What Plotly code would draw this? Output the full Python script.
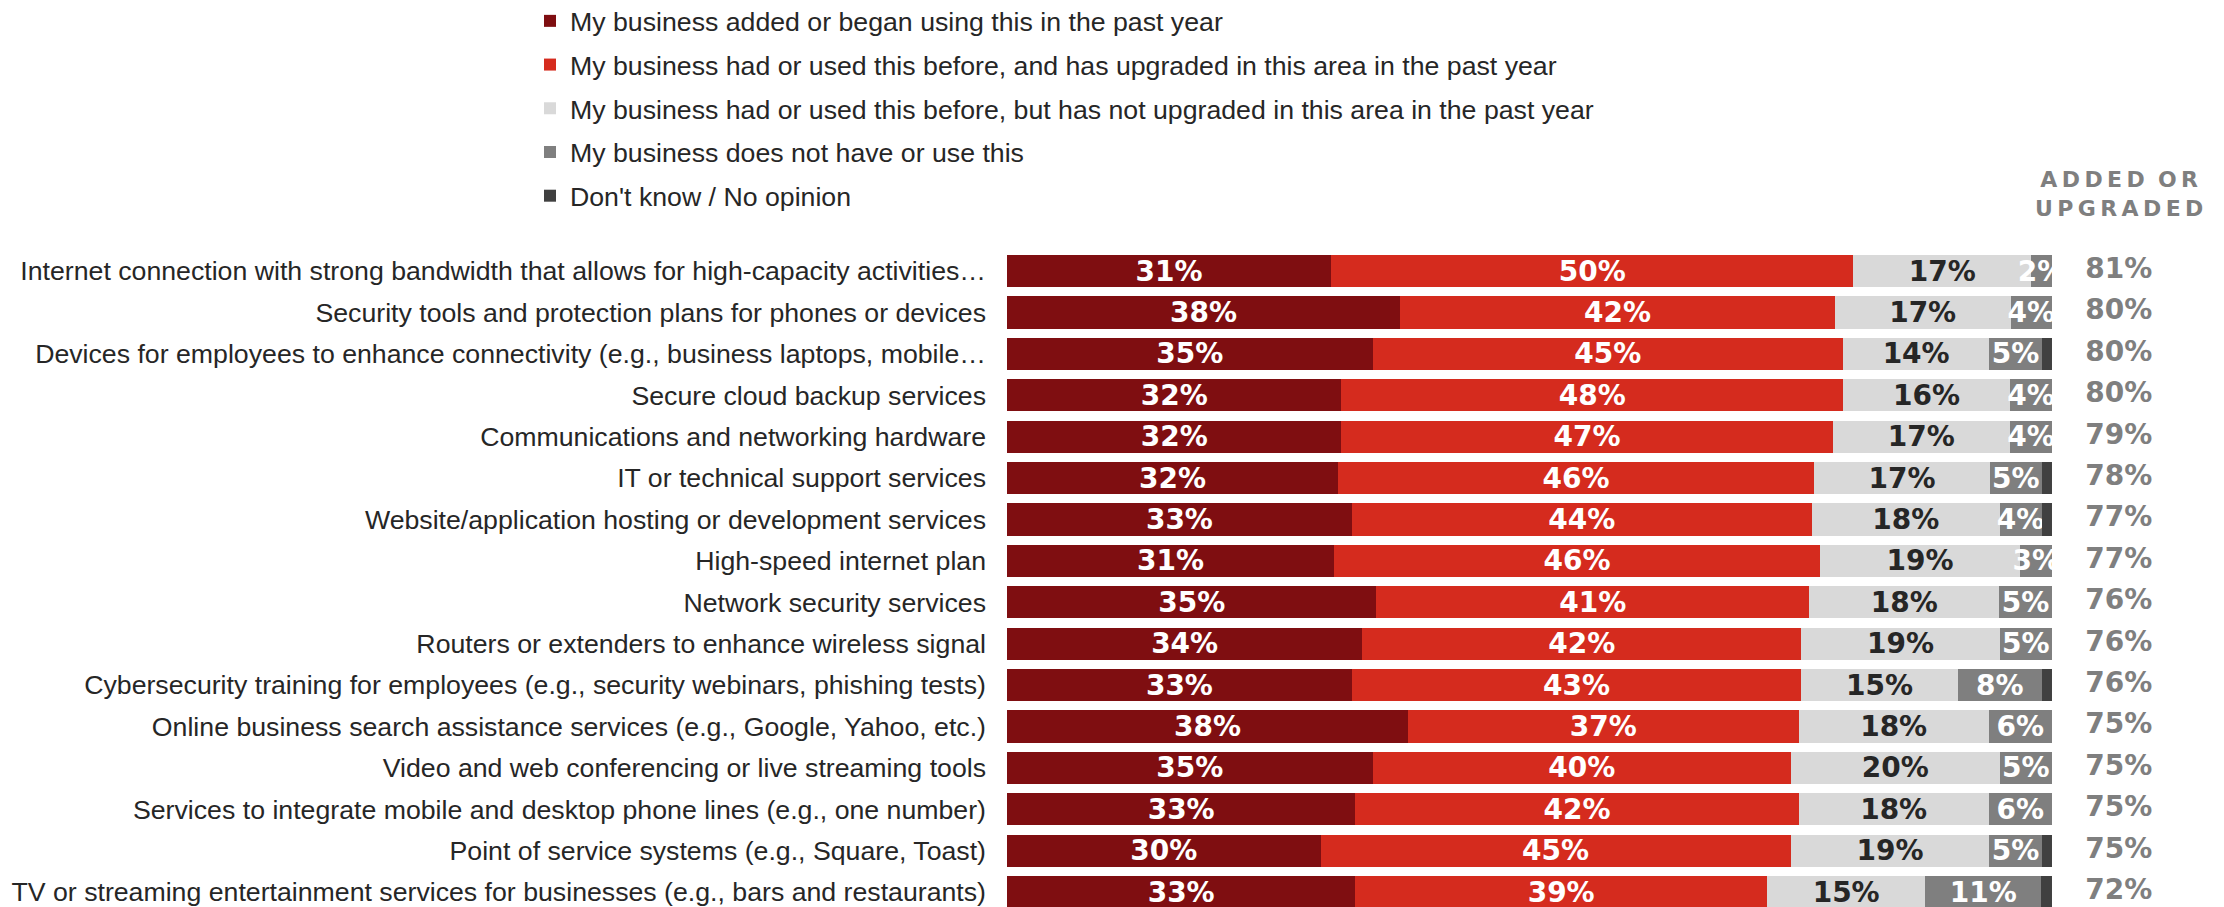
import plotly.graph_objects as go

# Survey items (top to bottom)
categories = [
    "Internet connection with strong bandwidth that allows for high-capacity activities…",
    "Security tools and protection plans for phones or devices",
    "Devices for employees to enhance connectivity (e.g., business laptops, mobile…",
    "Secure cloud backup services",
    "Communications and networking hardware",
    "IT or technical support services",
    "Website/application hosting or development services",
    "High-speed internet plan",
    "Network security services",
    "Routers or extenders to enhance wireless signal",
    "Cybersecurity training for employees (e.g., security webinars, phishing tests)",
    "Online business search assistance services (e.g., Google, Yahoo, etc.)",
    "Video and web conferencing or live streaming tools",
    "Services to integrate mobile and desktop phone lines (e.g., one number)",
    "Point of service systems (e.g., Square, Toast)",
    "TV or streaming entertainment services for businesses (e.g., bars and restaurants)",
]

# Share of respondents (%) per answer
added = [31, 38, 35, 32, 32, 32, 33, 31, 35, 34, 33, 38, 35, 33, 30, 33]
upgraded = [50, 42, 45, 48, 47, 46, 44, 46, 41, 42, 43, 37, 40, 42, 45, 39]
not_upgraded = [17, 17, 14, 16, 17, 17, 18, 19, 18, 19, 15, 18, 20, 18, 19, 15]
no_use = [2, 4, 5, 4, 4, 5, 4, 3, 5, 5, 8, 6, 5, 6, 5, 11]
dont_know = [0, 0, 1, 0, 0, 1, 1, 0, 0, 0, 1, 0, 0, 0, 1, 1]
added_or_upgraded = [81, 80, 80, 80, 79, 78, 77, 77, 76, 76, 76, 75, 75, 75, 75, 72]

series_names = [
    "My business added or began using this in the past year",
    "My business had or used this before, and has upgraded in this area in the past year",
    "My business had or used this before, but has not upgraded in this area in the past year",
    "My business does not have or use this",
    "Don't know / No opinion",
]
series_values = [added, upgraded, not_upgraded, no_use, dont_know]
series_colors = ["#7F0E11", "#D52B1E", "#D9D9D9", "#7F7F7F", "#404040"]
label_colors = ["#FFFFFF", "#FFFFFF", "#262626", "#FFFFFF", "#FFFFFF"]
show_labels = [True, True, True, True, False]

LABEL_FONT = "DejaVu Sans"
TEXT_FONT = "Liberation Sans, Arial, sans-serif"

fig = go.Figure()
for i, (name, vals, color, tcolor, show) in enumerate(
    zip(series_names, series_values, series_colors, label_colors, show_labels)
):
    fig.add_trace(
        go.Bar(
            y=categories,
            x=vals,
            name=name,
            orientation="h",
            legendgroup=f"g{i}",
            marker=dict(color=color, line=dict(width=0)),
            text=[f"{v}%" if show and v > 0 else "" for v in vals],
            textposition="inside",
            insidetextanchor="middle",
            textangle=0,
            textfont=dict(family=LABEL_FONT, size=28, color=tcolor, weight="bold"),
            hoverinfo="skip",
        )
    )

# "Added or upgraded" totals column
fig.add_trace(
    go.Scatter(
        x=[106.4] * len(categories),
        y=categories,
        mode="text",
        text=[f"{v}%" for v in added_or_upgraded],
        textfont=dict(family=LABEL_FONT, size=28, color="#7F7F7F", weight="bold"),
        textposition="middle center",
        showlegend=False,
        hoverinfo="skip",
        cliponaxis=False,
    )
)

thin = "\u2009"
header = thin.join("ADDED") + thin * 3 + thin.join("OR") + "<br>" + thin.join("UPGRADED")
fig.add_annotation(
    x=106.4, xref="x", y=1.069, yref="paper",
    text=header, showarrow=False,
    font=dict(family=LABEL_FONT, size=22, color="#7F7F7F", weight="bold"),
    xanchor="center", yanchor="middle", align="center",
)

# keep overflowing segment labels inside the bar end
fig.add_shape(
    type="rect", xref="x", yref="paper", x0=100, x1=102.6, y0=0, y1=1,
    fillcolor="white", line=dict(width=0), layer="above",
)

fig.update_layout(
    width=2224,
    height=907,
    barmode="stack",
    barnorm="percent",
    bargap=0.22,
    plot_bgcolor="white",
    paper_bgcolor="white",
    margin=dict(l=1007, r=0, t=240, b=0, autoexpand=False),
    uniformtext=dict(minsize=28, mode="show"),
    font=dict(family=TEXT_FONT, color="#262626"),
    showlegend=True,
    legend=dict(
        orientation="v",
        xref="container", yref="paper",
        x=530 / 2224, xanchor="left",
        y=1 + 243 / 667, yanchor="top",
        font=dict(family=TEXT_FONT, size=26.7, color="#262626"),
        itemwidth=30,
        tracegroupgap=6,
        bgcolor="rgba(0,0,0,0)",
        itemclick=False, itemdoubleclick=False,
    ),
    xaxis=dict(
        range=[0, 116.46],
        showgrid=False, zeroline=False, showticklabels=False, showline=False,
        fixedrange=True,
    ),
    yaxis=dict(
        type="category",
        categoryorder="array",
        categoryarray=categories,
        range=[15.36, -0.75],
        showgrid=False, zeroline=False, showline=False,
        ticks="", ticklabelstandoff=20,
        tickfont=dict(family=TEXT_FONT, size=26.7, color="#262626"),
        fixedrange=True,
    ),
)

fig.write_html("out.html")
